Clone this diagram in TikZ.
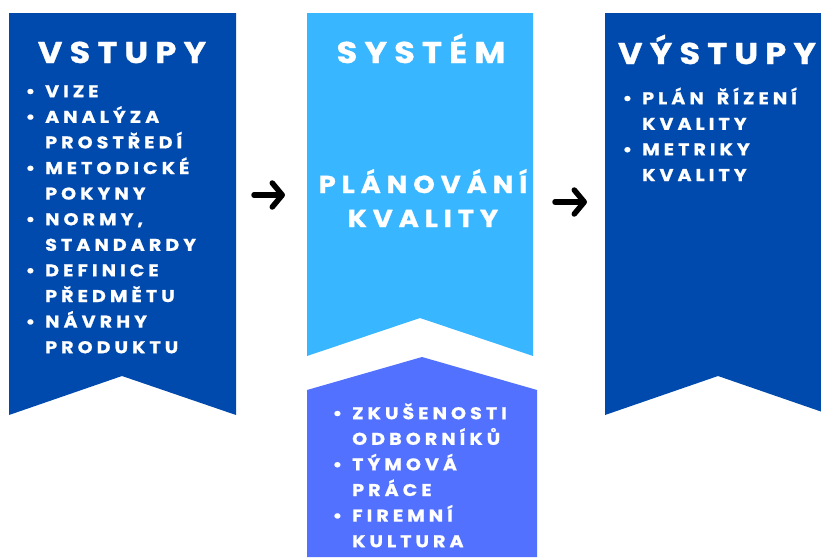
\documentclass[tikz,border=0pt]{standalone}
\usepackage{fontspec}
\usepackage{tikz}
\usetikzlibrary{arrows.meta}
\setmainfont{Poppins}[LetterSpace=24,FakeStretch=1.12,BoldFeatures={FakeBold=1}]
\definecolor{darkblue}{HTML}{004AAD}
\definecolor{skyblue}{HTML}{38B6FF}
\definecolor{violetblue}{HTML}{5271FF}
\newcommand{\bod}{\llap{\textbullet\hspace{10pt}}}
\newcommand{\prvni}{\rule{0pt}{20pt}}

\begin{document}
\begin{tikzpicture}[x=1pt,y=-1pt,
  nadpis/.style={text=white,inner sep=0pt,anchor=base,font=\bfseries\fontsize{30}{30}\selectfont},
  stred/.style={text=white,inner sep=0pt,anchor=base,align=center,font=\bfseries\fontsize{24.5}{34}\selectfont},
  seznam/.style={text=white,inner sep=0pt,anchor=north west,align=left,font=\bfseries\fontsize{17}{25.6}\selectfont},
  sipka/.style={line width=5.5pt,line cap=round,-{Straight Barb[round,length=10pt,width=24pt]}}]
\useasboundingbox (0,0) rectangle (821,557);
\clip (0,0) rectangle (821,557);
\fill[darkblue] (9,13) -- (236,13) -- (236,415) -- (122,376) -- (9,415) -- cycle;
\fill[skyblue] (307,13) -- (533,13) -- (533,356) -- (420,318) -- (307,356) -- cycle;
\fill[violetblue] (307,390) -- (422,357) -- (537,390) -- (537,557) -- (307,557) -- cycle;
\fill[darkblue] (605,13) -- (831,13) -- (831,415) -- (718,376) -- (605,415) -- cycle;

\node[nadpis] (vstupy) at (122,63) {VSTUPY};
\node[nadpis] (system) at (421,63) {SYSTÉM};
\node[nadpis] (vystupy) at (717,64) {VÝSTUPY};
\node[stred] (planovani) at (423,227) {PLÁNOVÁNÍ\\KVALITY};

\node[seznam] (vstupylist) at (45,77) {\prvni\bod VIZE\\\bod ANALÝZA\\PROSTŘEDÍ\\\bod METODICKÉ\\POKYNY\\\bod NORMY,\\STANDARDY\\\bod DEFINICE\\PŘEDMĚTU\\\bod NÁVRHY\\PRODUKTU};
\node[seznam] (vlivylist) at (352,399) {\prvni\bod ZKUŠENOSTI\\ODBORNÍKŮ\\\bod TÝMOVÁ\\PRÁCE\\\bod FIREMNÍ\\KULTURA};
\node[seznam] (vystupylist) at (642,84) {\prvni\bod PLÁN\hspace{5pt} ŘÍZENÍ\\KVALITY\\\bod METRIKY\\KVALITY};

\coordinate (a1) at (254,195);
\coordinate (b1) at (285,195);
\coordinate (a2) at (555,202);
\coordinate (b2) at (587,202);
\draw[sipka] (a1) -- (b1);
\draw[sipka] (a2) -- (b2);
\end{tikzpicture}
\end{document}
